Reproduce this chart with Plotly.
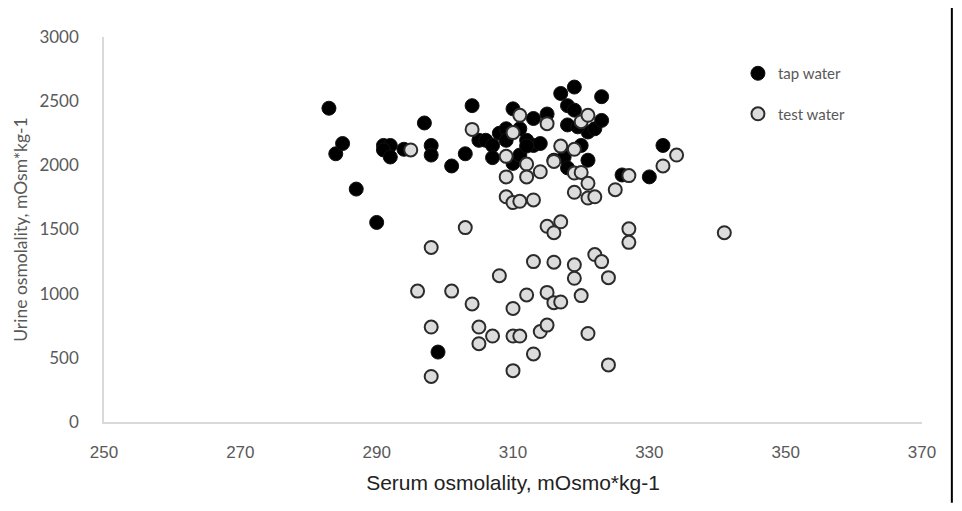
import plotly.graph_objects as go

# Tap water group (black markers)
tap_serum = [
    283, 284, 285, 287, 290, 291, 292, 291, 292, 294,
    297, 298, 298, 299, 301, 303, 304, 305, 306, 307,
    307, 308, 309, 309, 310, 310, 311, 311, 312, 313,
    313, 314, 315, 317, 319, 318, 319, 318, 320, 321,
    322, 323, 323, 317.5, 318, 321, 326, 330, 332, 312,
    316, 319.5,
]
tap_urine = [
    2445, 2090, 2170, 1815, 1555, 2155, 2155, 2120, 2065, 2125,
    2330, 2155, 2080, 545, 1995, 2090, 2465, 2195, 2195, 2155,
    2060, 2250, 2285, 2195, 2440, 2015, 2080, 2285, 2195, 2365,
    2155, 2170, 2400, 2560, 2610, 2465, 2430, 2315, 2155, 2260,
    2285, 2535, 2350, 2065, 1980, 2040, 1925, 1910, 2155, 2150,
    2040, 2300,
]

# Test water group (grey markers)
test_serum = [
    295, 304, 310, 311, 315, 309, 312, 309, 312, 314,
    309, 310, 311, 313, 317, 319, 320, 321, 316, 319,
    320, 321, 319, 321, 322, 325, 327, 332, 334, 303,
    315, 317, 316, 327, 327, 341, 298, 313, 316, 319,
    319, 322, 323, 324, 308, 296, 301, 304, 310, 312,
    315, 316, 317, 320, 298, 305, 305, 307, 310, 311,
    314, 315, 321, 313, 298, 310, 324,
]
test_urine = [
    2120, 2280, 2255, 2390, 2325, 2070, 2010, 1910, 1910, 1950,
    1755, 1710, 1720, 1730, 2150, 2125, 2340, 2390, 2030, 1940,
    1945, 1860, 1790, 1745, 1755, 1810, 1920, 1995, 2080, 1515,
    1525, 1560, 1475, 1505, 1400, 1475, 1360, 1250, 1245, 1225,
    1120, 1305, 1250, 1125, 1140, 1020, 1020, 920, 885, 990,
    1010, 930, 935, 985, 740, 740, 610, 670, 670, 670,
    705, 755, 690, 530, 355, 400, 445,
]

x_ticks = [250, 270, 290, 310, 330, 350, 370]
y_ticks = [0, 500, 1000, 1500, 2000, 2500, 3000]

fig = go.Figure()

fig.add_trace(go.Scatter(
    x=tap_serum,
    y=tap_urine,
    mode="markers",
    name="tap water",
    legendgroup="tap",
    marker=dict(size=14, color="#000000", line=dict(color="#111111", width=1)),
))

fig.add_trace(go.Scatter(
    x=test_serum,
    y=test_urine,
    mode="markers",
    name="test water",
    legendgroup="test",
    marker=dict(size=13, color="#dcdcdc", line=dict(color="#2b2b2b", width=2)),
))

# page body adds 8px on each side; figure sized so the page does not scroll
fig.update_layout(
    width=946,
    height=495,
    paper_bgcolor="white",
    plot_bgcolor="white",
    margin=dict(l=92, r=32, t=29, b=80),
    font=dict(family="Lato, Open Sans, sans-serif", color="#595959", size=14),
    legend=dict(
        x=0.775, y=0.948, xanchor="left", yanchor="top",
        font=dict(size=15, color="#595959"),
        tracegroupgap=18,
        itemwidth=30,
        bgcolor="rgba(0,0,0,0)",
    ),
    xaxis=dict(
        range=[250, 370],
        tickvals=x_ticks,
        showgrid=False,
        zeroline=False,
        showline=True,
        linecolor="#d9d9d9",
        linewidth=1.5,
        ticks="outside",
        ticklen=14,
        tickcolor="white",
        tickfont=dict(family="Liberation Sans Narrow, Liberation Sans, sans-serif", size=17, color="#595959"),
        title=dict(
            text="Serum osmolality, mOsmo*kg-1",
            font=dict(family="Liberation Sans, sans-serif", size=21, color="#222222"),
            standoff=14,
        ),
    ),
    yaxis=dict(
        range=[0, 3000],
        tickvals=y_ticks,
        showgrid=False,
        zeroline=False,
        showline=True,
        linecolor="#d9d9d9",
        linewidth=1.5,
        ticks="outside",
        ticklen=20,
        tickcolor="white",
        tickfont=dict(size=17, color="#595959"),
        title=dict(
            text="Urine osmolality, mOsm*kg-1",
            font=dict(size=17.5, color="#595959"),
            standoff=7,
        ),
    ),
    shapes=[
        # black frame edge on the right side of the picture
        dict(type="line", xref="paper", yref="paper",
             x0=1.0365, x1=1.0365, y0=-0.21, y1=1.1,
             line=dict(color="black", width=2)),
    ],
)

fig.write_html("out.html")
